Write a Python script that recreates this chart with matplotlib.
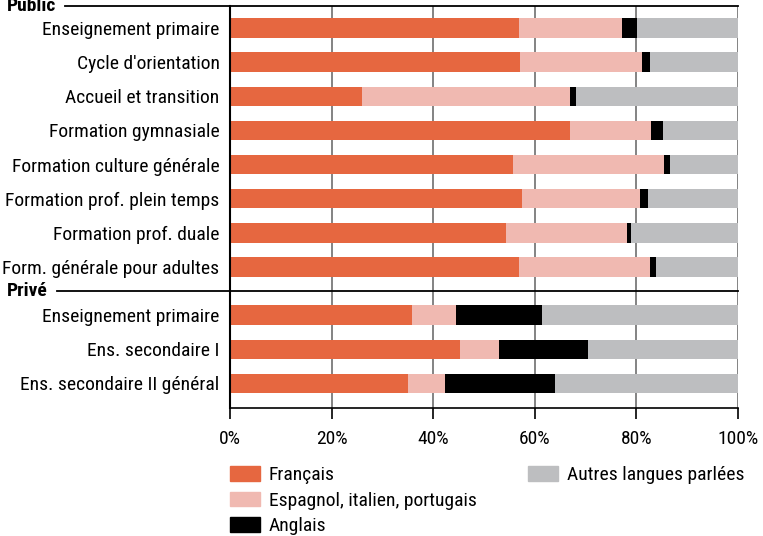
import matplotlib
matplotlib.use("Agg")
import matplotlib.pyplot as plt
from matplotlib.patches import Patch
from matplotlib.lines import Line2D
import numpy as np
from matplotlib import font_manager

names = {f.name for f in font_manager.fontManager.ttflist}
FONT = next((f for f in ["Roboto Condensed", "Archivo Narrow", "Liberation Sans Narrow",
                         "Barlow Semi Condensed", "Asap Condensed"] if f in names), "Liberation Sans")
plt.rcParams['font.family'] = [FONT, 'DejaVu Sans']

# ---- data ----
public_labels = ["Enseignement primaire", "Cycle d'orientation", "Accueil et transition",
                 "Formation gymnasiale", "Formation culture générale",
                 "Formation prof. plein temps", "Formation prof. duale",
                 "Form. générale pour adultes"]
prive_labels = ["Enseignement primaire", "Ens. secondaire I", "Ens. secondaire II général"]
group_names = ["Public", "Privé"]

series_names = ["Français", "Espagnol, italien, portugais", "Anglais", "Autres langues parlées"]
francais = [56.9, 57.1, 26.0, 66.9, 55.7, 57.5, 54.3, 56.9, 35.9, 45.3, 35.1]
espagnol = [20.2, 24.1, 40.9, 15.9, 29.7, 23.2, 23.8, 25.8, 8.6, 7.6, 7.2]
anglais = [3.0, 1.5, 1.2, 2.4, 1.2, 1.6, 0.8, 1.1, 16.9, 17.6, 21.7]
autres = [19.9, 17.3, 31.9, 14.8, 13.4, 17.7, 21.1, 16.2, 38.6, 29.5, 36.0]
colors = ["#E66740", "#F0B9B1", "#000000", "#BDBEC0"]
xticks = [0, 20, 40, 60, 80, 100]
xticklabels = ["0%", "20%", "40%", "60%", "80%", "100%"]

FS = 14
W, H = 763, 536
fig = plt.figure(figsize=(W / 100, H / 100), dpi=100)
ax = fig.add_axes([230 / W, 1 - 408 / H, 508 / W, (408 - 5.7) / H])

labels = public_labels + prive_labels
gap = 0.41
pos = np.array([i for i in range(len(public_labels))] +
               [len(public_labels) + gap + i for i in range(len(prive_labels))])

left = np.zeros(len(labels))
for vals, c, name in zip([francais, espagnol, anglais, autres], colors, series_names):
    v = np.array(vals)
    ax.barh(pos, v, left=left, height=0.57, color=c, label=name, zorder=2, linewidth=0)
    left += v

ax.set_xlim(0, 100)
top = -0.653
bottom = top + (408 - 5.7) / 34.14
ax.set_ylim(bottom, top)
ax.set_yticks(pos)
ax.set_yticklabels(labels, fontsize=FS)
ax.tick_params(axis='y', length=0, pad=7.5)
ax.set_xticks(xticks)
ax.set_xticklabels(xticklabels, fontsize=FS)
ax.tick_params(axis='x', length=8, width=1.2, color='black', pad=8)
ax.grid(axis='x', color='#6e6e6e', linewidth=1.2, zorder=1)
ax.set_axisbelow(True)
for s in ['top', 'right']:
    ax.spines[s].set_visible(False)
ax.spines['left'].set_linewidth(1.5)
ax.spines['bottom'].set_linewidth(1.2)

fig.canvas.draw()
renderer = fig.canvas.get_renderer()
sep_y = [top, (pos[len(public_labels) - 1] + pos[len(public_labels)]) / 2]
for name, yd in zip(group_names, sep_y):
    ydisp = ax.transData.transform((0, yd))[1]
    yfig = ydisp / fig.bbox.height
    t = fig.text(7 / W, yfig, name, fontsize=FS, fontweight='bold', va='center', ha='left')
    bb = t.get_window_extent(renderer)
    x0 = (bb.x1 + 9) / W
    fig.add_artist(Line2D([x0, 738 / W], [yfig, yfig], transform=fig.transFigure,
                          color='black', linewidth=1.3))

h = [Patch(color=c) for c in colors]
kw = dict(frameon=False, fontsize=FS, handlelength=1.55, handleheight=0.78,
          labelspacing=0.37, handletextpad=0.45, borderaxespad=0, borderpad=0.3)
leg1 = fig.legend(h[:3], series_names[:3], loc='upper left',
                  bbox_to_anchor=(224 / W, 1 - 460.5 / H), **kw)
leg2 = fig.legend(h[3:], series_names[3:], loc='upper left',
                  bbox_to_anchor=(522 / W, 1 - 460.5 / H), **kw)

fig.savefig("out.png", dpi=100)
